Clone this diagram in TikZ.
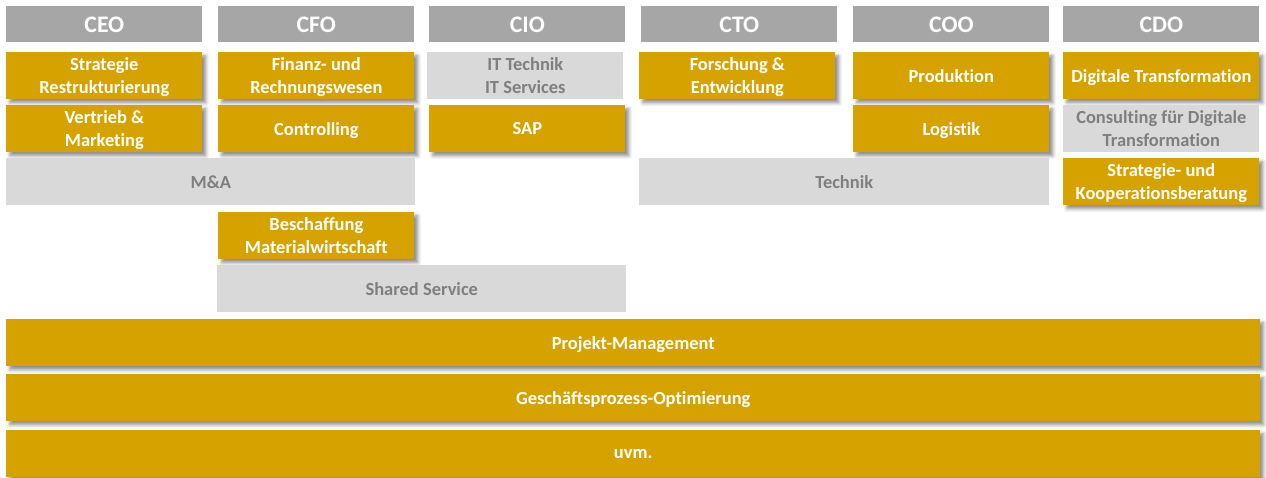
\documentclass[tikz,border=0pt]{standalone}
\usepackage{fontspec}
\setmainfont[Ligatures=NoCommon]{Carlito}
\usetikzlibrary{shadows.blur}

\definecolor{headgray}{HTML}{A6A6A6}
\definecolor{lightgray}{HTML}{D9D9D9}
\definecolor{textgray}{HTML}{7F7F7F}
\definecolor{gold}{HTML}{D5A200}

\tikzset{
  head/.style={fill=headgray, text=white, anchor=north west, inner sep=0pt,
    minimum width=3.92cm, minimum height=0.72cm,
    font=\bfseries\fontsize{13.5}{16}\selectfont},
  cell/.style={anchor=north west, inner sep=0pt, align=center, text depth=0pt,
    minimum width=3.92cm, minimum height=0.94cm,
    font=\bfseries\fontsize{10.5}{13}\selectfont},
  goldcell/.style={cell, fill=gold, text=white,
    blur shadow={shadow xshift=2pt, shadow yshift=-2pt, shadow opacity=45,
      shadow blur radius=2pt, shadow blur extra rounding=0pt}},
  graycell/.style={cell, fill=lightgray, text=textgray},
  wide/.style={minimum width=8.18cm},
  full/.style={minimum width=25.08cm}
}

\begin{document}
\begin{tikzpicture}[x=0.02cm, y=-0.02cm]
    \useasboundingbox (0,0) rectangle (1266,477);

    % header row
    \foreach \name/\x in {CEO/6, CFO/218, CIO/429, CTO/641, COO/853, CDO/1063} {
      \node[head] (\name) at (\x, 6) {\name};
    }

    % CEO
    \node[goldcell] (strat) at (6, 52) {Strategie\\Restrukturierung};
    \node[goldcell] (vertrieb) at (6, 105) {Vertrieb \&\\Marketing};

    % CFO
    \node[goldcell] (finanz) at (218, 52) {Finanz- und\\Rechnungswesen};
    \node[goldcell] (control) at (218, 105) {Controlling};
    \node[graycell, wide] (ma) at (6, 158) {M\&A};
    \node[goldcell] (beschaff) at (218, 212) {Beschaffung\\Materialwirtschaft};
    \node[graycell, wide] (shared) at (217, 265) {Shared Service};

    % CIO
    \node[graycell] (it) at (427, 52) {IT Technik\\IT Services};
    \node[goldcell] (sap) at (429, 105) {SAP};

    % CTO and COO
    \node[goldcell] (forsch) at (639, 52) {Forschung \&\\Entwicklung};
    \node[goldcell] (prod) at (853, 52) {Produktion};
    \node[goldcell] (logistik) at (853, 105) {Logistik};
    \node[graycell, wide, minimum width=8.2cm] (technik) at (639, 158) {Technik};

    % CDO
    \node[goldcell] (digital) at (1063, 52) {Digitale Transformation};
    \node[graycell] (consult) at (1063, 105) {Consulting f\"ur Digitale\\Transformation};
    \node[goldcell] (koop) at (1063, 158) {Strategie- und\\Kooperationsberatung};

    % bottom rows
    \node[goldcell, full] (pm) at (6, 319) {Projekt-Management};
    \node[goldcell, full] (gpo) at (6, 374) {Gesch\"aftsprozess-Optimierung};
    \node[goldcell, full] (uvm) at (6, 430) {uvm.};
  \end{tikzpicture}
\end{document}
